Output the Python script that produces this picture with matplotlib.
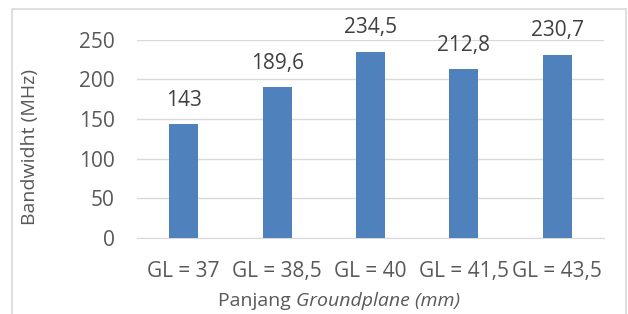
import matplotlib
matplotlib.use("Agg")
import matplotlib.pyplot as plt
from matplotlib.offsetbox import TextArea, HPacker, AnchoredOffsetbox
from matplotlib.patches import Rectangle

categories = ["GL = 37", "GL = 38,5", "GL = 40", "GL = 41,5", "GL = 43,5"]
values = [143, 189.6, 234.5, 212.8, 230.7]
value_labels = ["143", "189,6", "234,5", "212,8", "230,7"]
yticks = [0, 50, 100, 150, 200, 250]

FONT = "Open Sans"
plt.rcParams['font.family'] = [FONT, 'DejaVu Sans']

fig = plt.figure(figsize=(6.28, 3.14), dpi=100)
W, H = 628, 314

# chart border
fig.patches.append(Rectangle((11.5 / W, -0.01), (626 - 11.5) / W, (314 - 9) / H + 0.01,
                             transform=fig.transFigure, fill=False,
                             edgecolor="#d9d9d9", linewidth=1.2))

left, right = 137 / W, 604 / W
bottom, top = (H - 238) / H, (H - 39.5) / H
ax = fig.add_axes([left, bottom, right - left, top - bottom])

x = list(range(len(categories)))
ax.bar(x, values, width=0.31, color="#4f81bd", zorder=3)
ax.set_xlim(-0.5, len(categories) - 0.5)
ax.set_ylim(0, 250)
ax.set_yticks(yticks)
ax.set_yticklabels([str(v) for v in yticks])
ax.set_xticks(x)
ax.set_xticklabels(categories)
ax.yaxis.grid(True, color="#d9d9d9", linewidth=1.0, zorder=0)
for s in ax.spines.values():
    s.set_visible(False)
ax.spines['bottom'].set_visible(True)
ax.spines['bottom'].set_color("#d9d9d9")
ax.tick_params(axis='both', length=0, labelsize=15, colors="#595959")
ax.tick_params(axis='y', pad=16)
ax.tick_params(axis='x', pad=16.5)

for xi, v, lab in zip(x, values, value_labels):
    ax.annotate(lab, (xi, v), xytext=(0, 13.2), textcoords="offset points",
                ha="center", va="baseline", fontsize=15, color="#404040")

fig.text(30 / W, (H - 147) / H, "Bandwidht (MHz)", rotation=90, fontsize=14,
         color="#595959", ha="center", va="center")

# x-axis title with italic part
t1 = TextArea("Panjang ", textprops=dict(fontsize=14, color="#595959", family=FONT))
t2 = TextArea("Groundplane (mm)", textprops=dict(fontsize=14, color="#595959",
                                                  family=FONT, style="italic"))
box = HPacker(children=[t1, t2], align="baseline", pad=0, sep=0)
anch = AnchoredOffsetbox(loc="center", child=box, frameon=False,
                         bbox_to_anchor=(339 / W, (H - 301) / H),
                         bbox_transform=fig.transFigure, pad=0, borderpad=0)
fig.add_artist(anch)

fig.savefig("out.png", dpi=100)
